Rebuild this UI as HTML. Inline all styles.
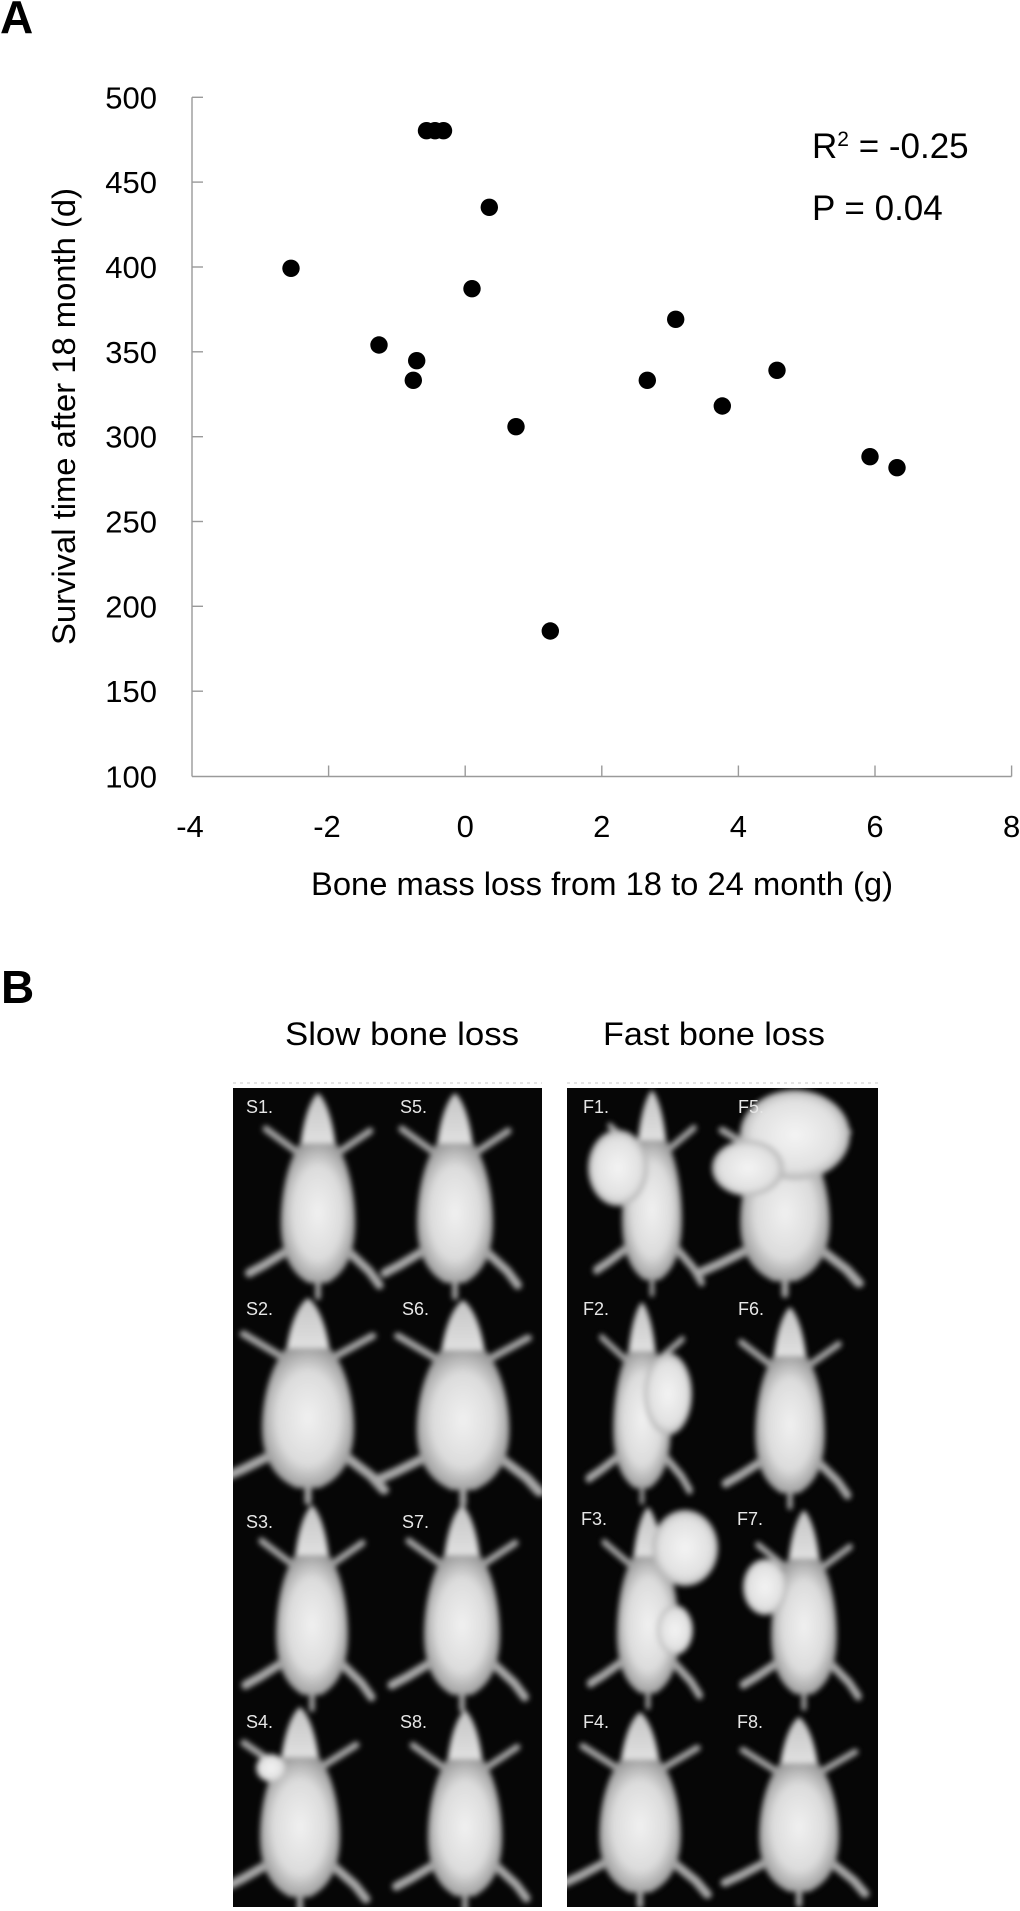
<!DOCTYPE html>
<html>
<head>
<meta charset="utf-8">
<style>
html,body{margin:0;padding:0;background:#fff;}
svg{display:block;}
text{font-family:"Liberation Sans",Arial,sans-serif;}
</style>
</head>
<body>
<svg width="1020" height="1911" viewBox="0 0 1020 1911" xmlns="http://www.w3.org/2000/svg">
<defs>
  <radialGradient id="gb" cx="0.5" cy="0.5" r="0.55">
    <stop offset="0" stop-color="#f0f0f0"/>
    <stop offset="0.6" stop-color="#dcdcdc"/>
    <stop offset="1" stop-color="#909090"/>
  </radialGradient>
  <linearGradient id="gh" x1="0" y1="0" x2="0" y2="1">
    <stop offset="0" stop-color="#c4c4c4"/>
    <stop offset="1" stop-color="#e2e2e2"/>
  </linearGradient>
  <radialGradient id="gt" cx="0.5" cy="0.5" r="0.55">
    <stop offset="0" stop-color="#f4f4f4"/>
    <stop offset="0.7" stop-color="#e0e0e0"/>
    <stop offset="1" stop-color="#a0a0a0"/>
  </radialGradient>
  <filter id="bl" x="-30%" y="-30%" width="160%" height="160%">
    <feGaussianBlur stdDeviation="2.6"/>
  </filter>
  <clipPath id="cl"><rect x="233" y="1088" width="309" height="819"/></clipPath>
  <clipPath id="cr"><rect x="567" y="1088" width="311" height="819"/></clipPath>
  <g id="m">
    <path d="M-18,62 L-56,36" stroke="#a4a4a4" stroke-width="7" stroke-linecap="round" fill="none"/>
    <path d="M18,62 L56,38" stroke="#a4a4a4" stroke-width="7" stroke-linecap="round" fill="none"/>
    <path d="M-30,156 L-58,172 L-74,180" stroke="#a8a8a8" stroke-width="9" stroke-linecap="round" stroke-linejoin="round" fill="none"/>
    <path d="M30,156 L55,178 L66,192" stroke="#a8a8a8" stroke-width="9" stroke-linecap="round" stroke-linejoin="round" fill="none"/>
    <path d="M0,180 L0,204" stroke="#a8a8a8" stroke-width="6" stroke-linecap="round"/>
    <path d="M0,0 C8,6 16,26 19,54 L-19,54 C-16,26 -8,6 0,0Z" fill="url(#gh)"/>
    <path d="M-19,50 C-32,66 -40,100 -40,130 C-40,160 -30,180 -10,190 L10,190 C30,180 40,160 40,130 C40,100 32,66 19,50Z" fill="url(#gb)"/>
  </g>
</defs>

<!-- Panel A -->
<text x="0" y="33" font-size="46" font-weight="bold" fill="#000">A</text>

<g stroke="#9a9a9a" stroke-width="1.4" fill="none">
  <line x1="192" y1="97.3" x2="192" y2="776.5"/>
  <line x1="192" y1="776.5" x2="1011.6" y2="776.5"/>
  <line x1="192" y1="97.3" x2="203" y2="97.3"/>
  <line x1="192" y1="182.1" x2="203" y2="182.1"/>
  <line x1="192" y1="267" x2="203" y2="267"/>
  <line x1="192" y1="351.8" x2="203" y2="351.8"/>
  <line x1="192" y1="436.7" x2="203" y2="436.7"/>
  <line x1="192" y1="521.5" x2="203" y2="521.5"/>
  <line x1="192" y1="606.3" x2="203" y2="606.3"/>
  <line x1="192" y1="691.2" x2="203" y2="691.2"/>
  <line x1="328.6" y1="765.5" x2="328.6" y2="776.5"/>
  <line x1="465.2" y1="765.5" x2="465.2" y2="776.5"/>
  <line x1="601.8" y1="765.5" x2="601.8" y2="776.5"/>
  <line x1="738.4" y1="765.5" x2="738.4" y2="776.5"/>
  <line x1="875" y1="765.5" x2="875" y2="776.5"/>
  <line x1="1011.6" y1="765.5" x2="1011.6" y2="776.5"/>
</g>

<g font-size="31" fill="#000" text-anchor="end">
  <text x="157" y="108.3">500</text>
  <text x="157" y="193.1">450</text>
  <text x="157" y="278">400</text>
  <text x="157" y="362.8">350</text>
  <text x="157" y="447.7">300</text>
  <text x="157" y="532.5">250</text>
  <text x="157" y="617.3">200</text>
  <text x="157" y="702.2">150</text>
  <text x="157" y="787.5">100</text>
</g>
<g font-size="31" fill="#000" text-anchor="middle">
  <text x="190" y="837">-4</text>
  <text x="327" y="837">-2</text>
  <text x="465.2" y="837">0</text>
  <text x="601.8" y="837">2</text>
  <text x="738.4" y="837">4</text>
  <text x="875" y="837">6</text>
  <text x="1011.6" y="837">8</text>
</g>

<text x="602" y="895" font-size="32.5" text-anchor="middle" textLength="582" lengthAdjust="spacingAndGlyphs">Bone mass loss from 18 to 24 month (g)</text>
<text transform="translate(75,416.5) rotate(-90)" font-size="32.5" text-anchor="middle" textLength="457" lengthAdjust="spacingAndGlyphs">Survival time after 18 month (d)</text>

<text x="812" y="158" font-size="35" fill="#000">R<tspan font-size="21" dy="-12">2</tspan><tspan dy="12"> = -0.25</tspan></text>
<text x="812" y="220" font-size="35" fill="#000">P = 0.04</text>

<g fill="#000">
  <circle cx="291" cy="268.3" r="8.7"/>
  <circle cx="426.5" cy="130.7" r="8.7"/>
  <circle cx="435" cy="130.7" r="8.7"/>
  <circle cx="443.5" cy="130.7" r="8.7"/>
  <circle cx="489.3" cy="207.3" r="8.7"/>
  <circle cx="472" cy="288.7" r="8.7"/>
  <circle cx="379" cy="345" r="8.7"/>
  <circle cx="416.7" cy="360.7" r="8.7"/>
  <circle cx="413.3" cy="380.3" r="8.7"/>
  <circle cx="675.7" cy="319.3" r="8.7"/>
  <circle cx="647.3" cy="380.3" r="8.7"/>
  <circle cx="777" cy="370.3" r="8.7"/>
  <circle cx="722.3" cy="406" r="8.7"/>
  <circle cx="516" cy="426.7" r="8.7"/>
  <circle cx="870" cy="456.7" r="8.7"/>
  <circle cx="897" cy="467.7" r="8.7"/>
  <circle cx="550.3" cy="631" r="8.7"/>
</g>

<!-- Panel B -->
<text x="1" y="1003" font-size="46" font-weight="bold" fill="#000">B</text>
<text x="285" y="1045" font-size="32" textLength="234" lengthAdjust="spacingAndGlyphs">Slow bone loss</text>
<text x="603" y="1045" font-size="32" textLength="222" lengthAdjust="spacingAndGlyphs">Fast bone loss</text>

<line x1="233" y1="1083" x2="542" y2="1083" stroke="#e4e4e4" stroke-width="2" stroke-dasharray="3 4"/>
<line x1="567" y1="1083" x2="878" y2="1083" stroke="#e4e4e4" stroke-width="2" stroke-dasharray="3 4"/>

<rect x="233" y="1088" width="309" height="819" fill="#060606"/>
<rect x="567" y="1088" width="311" height="819" fill="#060606"/>

<g clip-path="url(#cl)">
<g filter="url(#bl)">
  <use href="#m" transform="translate(318,1093) scale(0.93,1)"/>
  <use href="#m" transform="translate(455,1093) scale(0.95,1)"/>
  <use href="#m" transform="translate(308,1298) scale(1.15,1)"/>
  <use href="#m" transform="translate(463,1300) scale(1.16,1)"/>
  <use href="#m" transform="translate(312,1505) scale(0.9,1)"/>
  <use href="#m" transform="translate(462,1505) scale(0.95,1)"/>
  <use href="#m" transform="translate(300,1707) scale(1.0,1)"/>
  <use href="#m" transform="translate(465,1710) scale(0.93,0.98)"/>
  <ellipse cx="271" cy="1768" rx="15" ry="14" fill="url(#gt)"/>
</g>
</g>

<g clip-path="url(#cr)">
<g filter="url(#bl)">
  <use href="#m" transform="translate(652,1090) scale(0.75,1)"/>
  <ellipse cx="618" cy="1168" rx="30" ry="38" fill="url(#gt)"/>

  <use href="#m" transform="translate(785,1095) scale(1.12,0.98)"/>
  <ellipse cx="795" cy="1135" rx="55" ry="45" fill="url(#gt)"/>
  <ellipse cx="748" cy="1168" rx="36" ry="28" fill="url(#gt)"/>

  <use href="#m" transform="translate(642,1302) scale(0.72,0.98)"/>
  <ellipse cx="668" cy="1394" rx="24" ry="41" fill="url(#gt)"/>

  <use href="#m" transform="translate(790,1307) scale(0.87,0.98)"/>

  <use href="#m" transform="translate(648,1507) scale(0.78,0.98)"/>
  <ellipse cx="685" cy="1548" rx="33" ry="38" fill="url(#gt)"/>
  <ellipse cx="675" cy="1630" rx="18" ry="25" fill="url(#gt)"/>

  <use href="#m" transform="translate(804,1510) scale(0.82,0.97)"/>
  <ellipse cx="765" cy="1587" rx="22" ry="28" fill="url(#gt)"/>

  <use href="#m" transform="translate(640,1712) scale(1.02,0.95)"/>
  <use href="#m" transform="translate(799,1717) scale(1.0,0.92)"/>
</g>
</g>

<g font-size="18" fill="#e6e6e6">
  <text x="246" y="1113">S1.</text>
  <text x="400" y="1113">S5.</text>
  <text x="246" y="1315">S2.</text>
  <text x="402" y="1315">S6.</text>
  <text x="246" y="1528">S3.</text>
  <text x="402" y="1528">S7.</text>
  <text x="246" y="1728">S4.</text>
  <text x="400" y="1728">S8.</text>
  <text x="583" y="1113">F1.</text>
  <text x="738" y="1113">F5.</text>
  <text x="583" y="1315">F2.</text>
  <text x="738" y="1315">F6.</text>
  <text x="581" y="1525">F3.</text>
  <text x="737" y="1525">F7.</text>
  <text x="583" y="1728">F4.</text>
  <text x="737" y="1728">F8.</text>
</g>
</svg>
</body>
</html>
